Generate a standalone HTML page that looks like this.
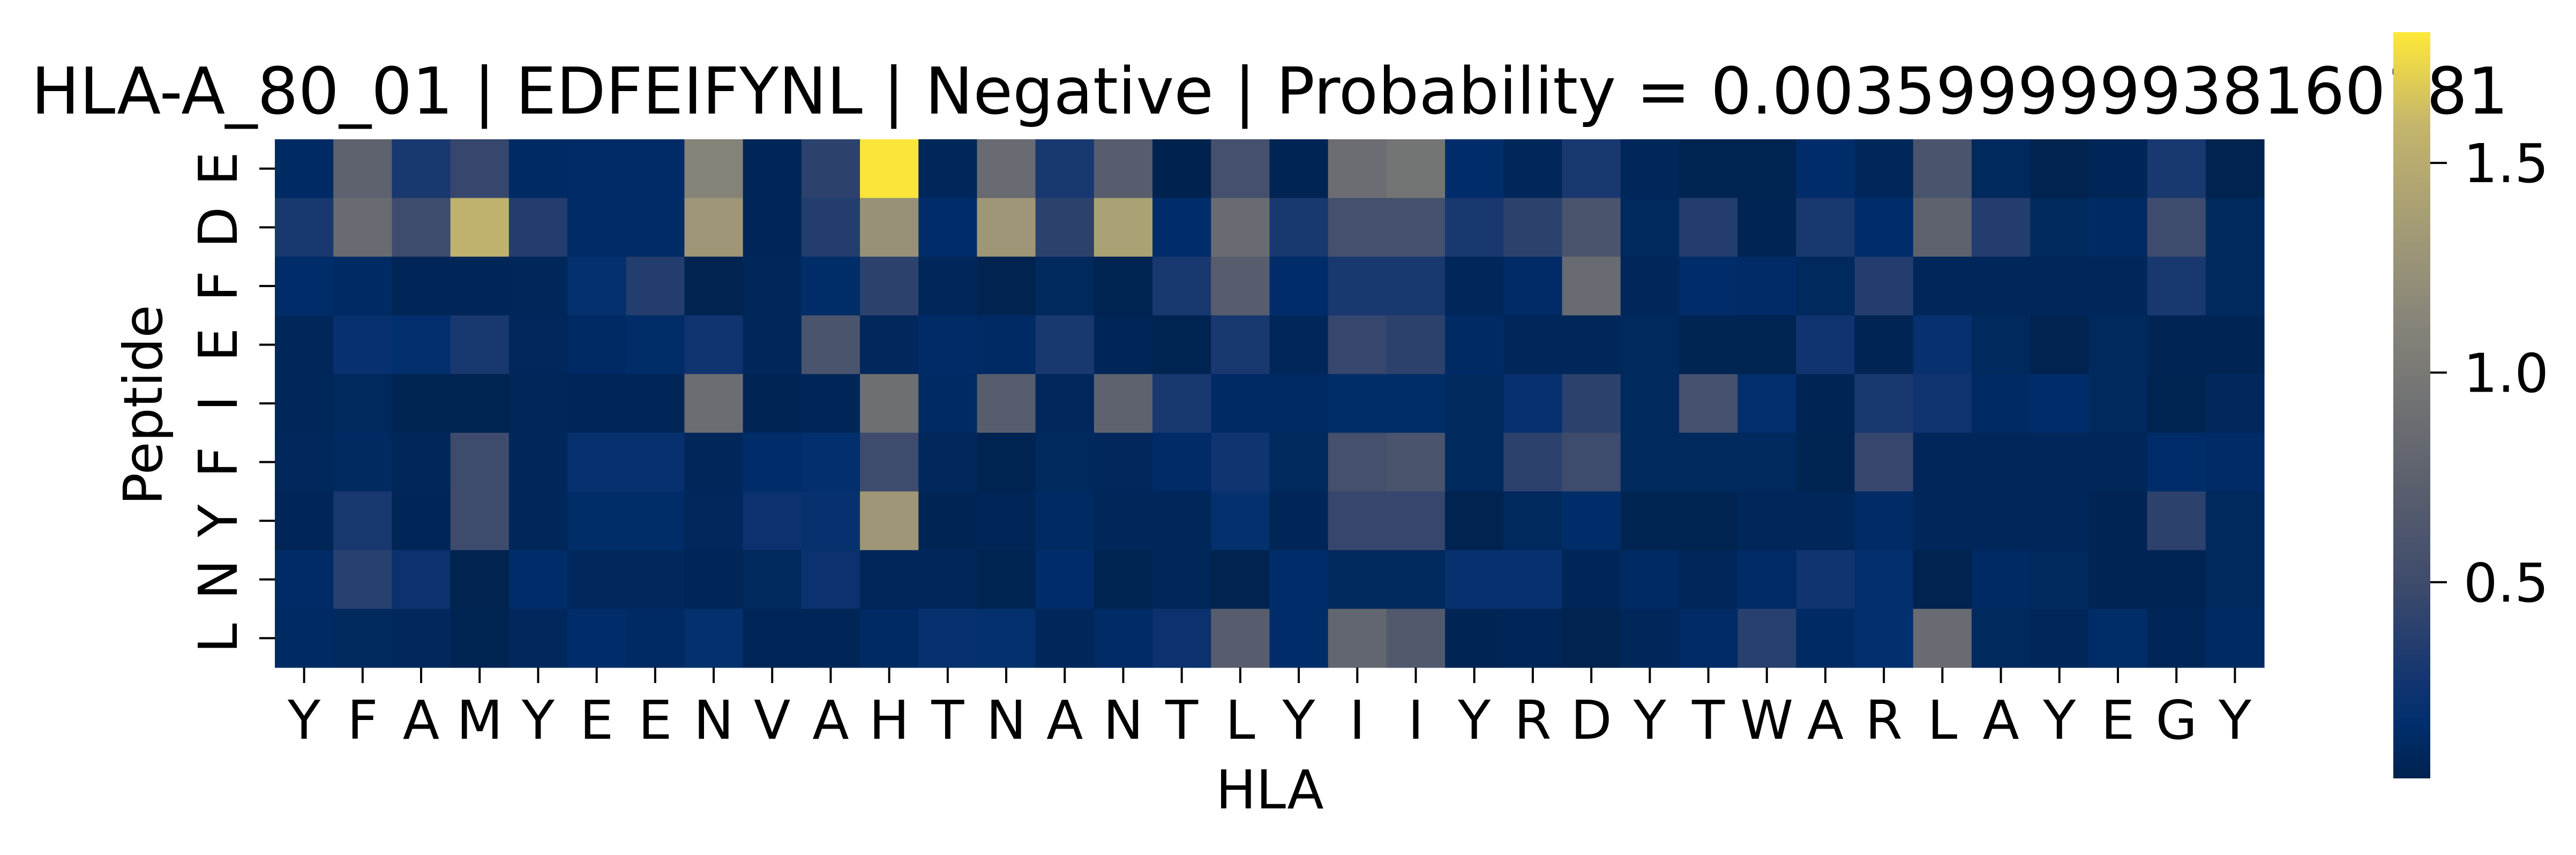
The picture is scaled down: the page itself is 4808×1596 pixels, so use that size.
<!DOCTYPE html>
<html><head><meta charset="utf-8"><style>
html,body{margin:0;padding:0;background:#fff;}
svg text{font-family:"DejaVu Sans","Liberation Sans",sans-serif;fill:#000;}
</style></head><body>
<svg id="chart" width="4808" height="1591" viewBox="0 0 4808 1591" xmlns="http://www.w3.org/2000/svg">
<defs><linearGradient id="cbgrad" x1="0" y1="1" x2="0" y2="0"></linearGradient></defs>
<text x="2370" y="212" font-size="120" text-anchor="middle">HLA-A_80_01 | EDFEIFYNL | Negative | Probability = 0.003599999938160181</text>
<g id="cells"></g>
<g id="xticks"></g>
<g id="yticks"></g>
<text x="2370" y="1509" font-size="100" text-anchor="middle">HLA</text>
<text x="0" y="0" font-size="100" text-anchor="middle" transform="translate(302,756) rotate(-90)">Peptide</text>
<rect x="4467" y="60" width="69" height="1393" fill="url(#cbgrad)"/>
<g id="cbticks"></g>
</svg>
<script>
const hlaLabels = ["Y","F","A","M","Y","E","E","N","V","A","H","T","N","A","N","T","L","Y","I","I","Y","R","D","Y","T","W","A","R","L","A","Y","E","G","Y"];
const peptideLabels = ["E","D","F","E","I","F","Y","N","L"];
const row0 = [0.12,0.75,0.3,0.45,0.12,0.13,0.13,1.1,0.07,0.4,1.8,0.08,0.85,0.3,0.7,0.03,0.55,0.06,0.88,0.95,0.15,0.08,0.3,0.08,0.05,0.05,0.15,0.08,0.6,0.1,0.04,0.07,0.3,0.04];
const row1 = [0.3,0.85,0.5,1.55,0.35,0.13,0.13,1.3,0.07,0.35,1.25,0.15,1.3,0.4,1.4,0.15,0.85,0.3,0.55,0.55,0.3,0.4,0.6,0.1,0.35,0.06,0.3,0.15,0.75,0.35,0.1,0.12,0.5,0.1];
const row2 = [0.15,0.12,0.07,0.07,0.08,0.18,0.35,0.04,0.08,0.14,0.4,0.08,0.04,0.1,0.05,0.3,0.7,0.15,0.3,0.3,0.08,0.13,0.85,0.08,0.15,0.13,0.1,0.35,0.08,0.08,0.08,0.08,0.3,0.1];
const row3 = [0.08,0.2,0.16,0.3,0.09,0.12,0.14,0.25,0.08,0.6,0.09,0.13,0.12,0.3,0.07,0.05,0.3,0.08,0.45,0.4,0.12,0.08,0.08,0.1,0.05,0.05,0.25,0.06,0.2,0.1,0.04,0.1,0.06,0.06];
const row4 = [0.08,0.1,0.05,0.05,0.08,0.07,0.07,0.88,0.06,0.07,0.9,0.12,0.7,0.09,0.75,0.3,0.12,0.12,0.14,0.14,0.1,0.2,0.4,0.1,0.55,0.16,0.06,0.3,0.25,0.12,0.15,0.1,0.05,0.09];
const row5 = [0.09,0.11,0.08,0.5,0.08,0.2,0.2,0.08,0.15,0.17,0.5,0.09,0.05,0.1,0.09,0.13,0.25,0.1,0.55,0.6,0.1,0.4,0.5,0.1,0.1,0.1,0.05,0.45,0.08,0.08,0.08,0.08,0.15,0.13];
const row6 = [0.07,0.3,0.07,0.5,0.08,0.14,0.14,0.09,0.22,0.2,1.3,0.06,0.07,0.12,0.08,0.08,0.18,0.07,0.45,0.45,0.04,0.1,0.15,0.05,0.05,0.08,0.08,0.13,0.08,0.08,0.08,0.06,0.4,0.1];
const row7 = [0.13,0.38,0.22,0.04,0.15,0.09,0.09,0.07,0.1,0.22,0.08,0.08,0.05,0.15,0.05,0.08,0.04,0.15,0.1,0.1,0.2,0.2,0.07,0.12,0.08,0.13,0.25,0.17,0.04,0.12,0.1,0.06,0.06,0.1];
const row8 = [0.12,0.1,0.09,0.05,0.09,0.15,0.12,0.18,0.07,0.07,0.12,0.2,0.18,0.08,0.13,0.22,0.7,0.15,0.8,0.65,0.06,0.07,0.04,0.08,0.13,0.38,0.12,0.17,0.85,0.1,0.08,0.14,0.07,0.12];
const colorbarTicks = [0.5,1.0,1.5];
const colorbarTickLabels = ["0.5","1.0","1.5"];
const vmin = 0.032, vmax = 1.812;

const rows = [row0,row1,row2,row3,row4,row5,row6,row7,row8];
const NS = "http://www.w3.org/2000/svg";
const plotLeft = 513, plotRight = 4226, plotTop = 260, plotBottom = 1246;
const cw = (plotRight-plotLeft)/hlaLabels.length, ch = (plotBottom-plotTop)/peptideLabels.length;
const xPos = i => plotLeft + i*cw;
const yPos = j => plotTop + j*ch;
const cbTop = 60, cbBottom = 1453;
const cbY = v => cbBottom - (v - vmin)/(vmax - vmin)*(cbBottom - cbTop);

const cmapStops = [[0,[0,34,78]],[0.07,[0,46,108]],[0.13,[18,53,112]],[0.25,[59,73,108]],[0.375,[87,93,109]],[0.5,[112,113,115]],[0.625,[138,135,121]],[0.75,[166,157,117]],[0.875,[196,181,108]],[1,[254,232,56]]];
function cividis(t){
  t=Math.max(0,Math.min(1,t));
  for(let k=1;k<cmapStops.length;k++){
    if(t<=cmapStops[k][0]){
      const a=cmapStops[k-1],b=cmapStops[k],f=(t-a[0])/(b[0]-a[0]);
      const c=a[1].map((x,i)=>Math.round(x+(b[1][i]-x)*f));
      return `rgb(${c[0]},${c[1]},${c[2]})`;
    }
  }
  return "rgb(254,232,56)";
}

const grad = document.getElementById("cbgrad");
cmapStops.forEach(s=>{
  const st=document.createElementNS(NS,"stop");
  st.setAttribute("offset", s[0]);
  st.setAttribute("stop-color", cividis(s[0]));
  grad.appendChild(st);
});

const cellsG = document.getElementById("cells");
rows.forEach((r,j)=>{
  r.forEach((v,i)=>{
    const el=document.createElementNS(NS,"rect");
    
    
    el.setAttribute("x", xPos(i)); el.setAttribute("y", yPos(j));
    el.setAttribute("width", cw+0.6); el.setAttribute("height", ch+0.6);
    el.setAttribute("fill", cividis((v-vmin)/(vmax-vmin)));
    cellsG.appendChild(el);
  });
});

const xt = document.getElementById("xticks");
hlaLabels.forEach((lab,i)=>{
  const cx = xPos(i)+cw/2;
  const tk=document.createElementNS(NS,"line");
  
  
  tk.setAttribute("x1",cx);tk.setAttribute("x2",cx);tk.setAttribute("y1",plotBottom);tk.setAttribute("y2",plotBottom+29);
  tk.setAttribute("stroke","#000");tk.setAttribute("stroke-width","4");
  xt.appendChild(tk);
  const t=document.createElementNS(NS,"text");
  
  
  t.setAttribute("x",cx);t.setAttribute("y",1379);t.setAttribute("font-size","100");t.setAttribute("text-anchor","middle");
  t.textContent=lab; xt.appendChild(t);
});

const yt = document.getElementById("yticks");
peptideLabels.forEach((lab,j)=>{
  const cy = yPos(j)+ch/2;
  const tk=document.createElementNS(NS,"line");
  
  
  tk.setAttribute("x1",plotLeft-29);tk.setAttribute("x2",plotLeft);tk.setAttribute("y1",cy);tk.setAttribute("y2",cy);
  tk.setAttribute("stroke","#000");tk.setAttribute("stroke-width","4");
  yt.appendChild(tk);
  const t=document.createElementNS(NS,"text");
  
  
  t.setAttribute("x",0);t.setAttribute("y",0);t.setAttribute("font-size","100");t.setAttribute("text-anchor","middle");
  t.setAttribute("transform",`translate(442,${cy}) rotate(-90)`);
  t.textContent=lab; yt.appendChild(t);
});

const cbt = document.getElementById("cbticks");
colorbarTicks.forEach((v,k)=>{
  const y=cbY(v);
  const tk=document.createElementNS(NS,"line");
  
  
  tk.setAttribute("x1",4536);tk.setAttribute("x2",4567);tk.setAttribute("y1",y);tk.setAttribute("y2",y);
  tk.setAttribute("stroke","#000");tk.setAttribute("stroke-width","4");
  cbt.appendChild(tk);
  const t=document.createElementNS(NS,"text");
  
  
  t.setAttribute("x",4598);t.setAttribute("y",y+36);t.setAttribute("font-size","100");
  t.textContent=colorbarTickLabels[k]; cbt.appendChild(t);
});
</script>
</body></html>
